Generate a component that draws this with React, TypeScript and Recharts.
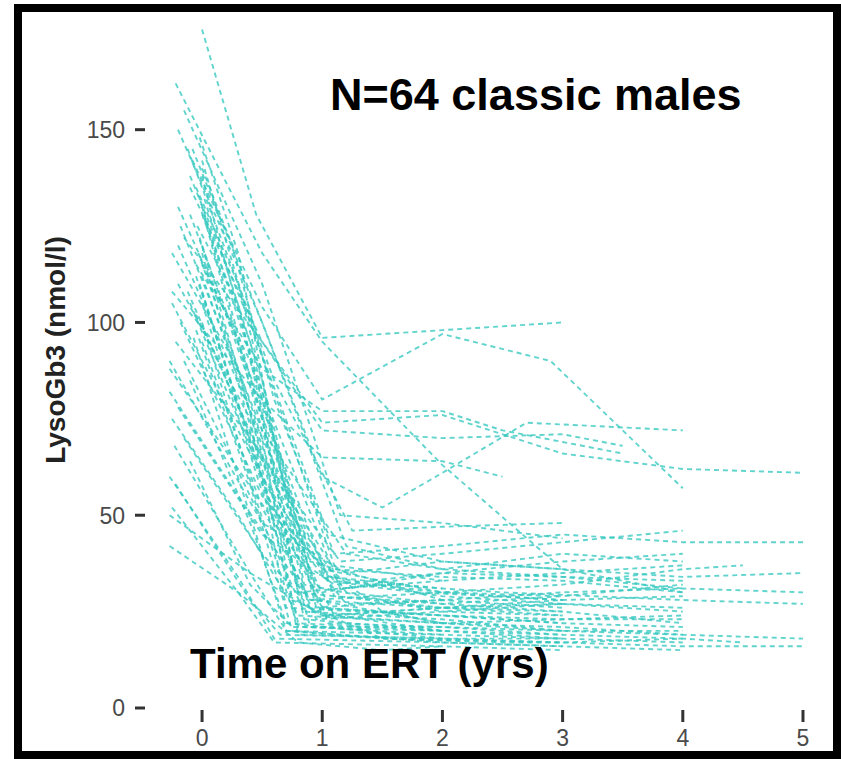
import { LineChart, Line, XAxis, YAxis } from "recharts";

// each track: [years on ERT, lysoGb3 nmol/l]
type Track = [number, number][];

const upperTracks: Track[] = [
  [[0, 176], [0.45, 128], [1, 96], [2, 98], [3, 100]],
  [[-0.22, 162], [0.5, 118], [1, 95], [2, 63], [3, 36], [4, 30]],
  [[-0.08, 142], [0.5, 104], [1, 80], [2, 97], [2.9, 90], [4, 57]],
  [[-0.15, 122], [0.5, 95], [1, 74], [2, 76], [3, 66], [4, 62], [5, 61]],
  [[-0.2, 150], [0.5, 100], [1, 60], [1.5, 52], [2, 61], [2.7, 74], [4, 72]],
  [[-0.05, 115], [0.5, 88], [1, 77], [2, 77], [2.5, 72], [3, 69], [3.5, 66]],
  [[-0.1, 135], [0.5, 95], [1, 72], [2, 70], [3, 71], [3.5, 68]],
  [[-0.25, 108], [0.5, 80], [1, 65], [2, 64], [2.5, 60]],
];

const steepTracks: Track[] = [
  [[-0.02, 148], [0.3, 118], [0.6, 70], [0.9, 35], [1.8, 30], [3, 28]],
  [[0, 140], [0.25, 120], [0.6, 80], [1.1, 40], [2, 42], [3, 45], [4, 43], [5, 43]],
  [[-0.05, 135], [0.3, 110], [0.7, 60], [0.95, 28], [2, 22], [3, 20]],
  [[0, 128], [0.4, 95], [0.75, 50], [1.2, 30], [2, 27], [3, 25], [4, 22]],
  [[-0.1, 138], [0.4, 100], [1.05, 45], [2, 38], [3, 36], [4, 34], [5, 35]],
  [[0.02, 132], [0.5, 85], [0.85, 32], [2, 25], [3, 24]],
  [[-0.04, 125], [0.3, 105], [0.65, 55], [0.9, 25], [2, 20], [3, 18], [4, 17]],
  [[-0.15, 155], [0.5, 110], [1.15, 50], [2, 48], [3, 44]],
  [[0, 120], [0.5, 75], [0.8, 30], [1.5, 32], [2.5, 30], [4, 28], [5, 27]],
  [[-0.08, 145], [0.5, 100], [1.2, 42], [2, 36], [3, 40], [4, 38]],
  [[-0.2, 130], [0.3, 95], [0.9, 38], [2, 28], [3, 30], [4, 31], [5, 30]],
  [[0, 115], [0.4, 90], [0.9, 40], [1.5, 25], [2, 22]],
  [[-0.12, 145], [0.6, 85], [1.25, 46], [2, 47], [3, 48]],
  [[-0.03, 118], [0.5, 70], [0.75, 28], [1.5, 18], [3, 17], [4, 16], [5, 16]],
];

const midTracks: Track[] = [
  [[-0.25, 118], [0.3, 88], [0.8, 30], [2, 26], [3, 24]],
  [[-0.2, 110], [0.4, 75], [0.7, 26], [2, 24], [3, 22], [4, 21]],
  [[-0.1, 105], [0.5, 60], [0.8, 22], [2, 20], [3, 19]],
  [[0, 112], [0.5, 68], [1, 24], [2, 22], [3, 21], [4, 19], [5, 18]],
  [[-0.18, 100], [0.5, 55], [1.1, 33], [2, 30], [3, 32], [4, 36], [4.5, 37]],
  [[-0.05, 98], [0.4, 58], [0.75, 20], [2, 17], [3, 16]],
  [[-0.22, 95], [0.4, 70], [1.1, 36], [2, 34], [3, 33], [4, 30]],
  [[0, 108], [0.6, 50], [1.2, 27], [2, 28]],
  [[-0.15, 90], [0.4, 55], [0.85, 25], [2, 23], [3, 20], [4, 20]],
  [[-0.27, 88], [0.3, 62], [1, 30], [2, 35], [3, 38], [4, 40]],
  [[-0.1, 85], [0.4, 48], [0.7, 22], [2, 18], [3, 17], [4, 18], [4.5, 17]],
  [[-0.05, 102], [0.5, 65], [1.15, 38], [2, 40], [3, 43], [4, 46]],
  [[-0.2, 120], [0.5, 70], [1.05, 34], [2, 31]],
  [[0, 95], [0.5, 52], [0.9, 28], [2, 26], [3, 27], [4, 26]],
];

const lowTracks: Track[] = [
  [[-0.27, 82], [0.3, 55], [0.9, 28], [2, 30], [3, 29]],
  [[-0.25, 75], [0.3, 50], [0.8, 24], [2, 22], [3, 23], [4, 24]],
  [[-0.23, 68], [0.4, 35], [0.7, 20], [2, 19], [3, 18]],
  [[-0.27, 60], [0.3, 34], [0.6, 18], [2, 17], [3, 16], [4, 15]],
  [[-0.25, 52], [0.3, 30], [0.6, 17], [2, 16], [3, 15]],
  [[-0.27, 42], [0.3, 30], [0.8, 17], [1.5, 15], [2, 16]],
  [[-0.2, 78], [0.5, 45], [1.1, 32], [2, 35], [3, 34], [4, 33]],
  [[-0.15, 70], [0.5, 40], [0.9, 26], [2, 28], [3, 26]],
  [[-0.27, 90], [0.5, 48], [1.2, 35], [2, 38], [3, 36]],
  [[-0.1, 64], [0.4, 32], [0.75, 21], [2, 21], [3, 20], [4, 19]],
  [[-0.27, 50], [0.4, 35], [1, 24], [2, 26], [3, 28], [4, 29]],
  [[-0.22, 58], [0.4, 28], [0.65, 19], [2, 18]],
];

const trunkTracks: Track[] = [
  [[0, 138], [0.5, 80], [0.95, 26], [2, 24], [3, 22]],
  [[0, 130], [0.5, 75], [0.85, 23], [2, 20]],
  [[0.02, 127], [0.5, 72], [1.05, 22], [2, 21], [3, 19], [4, 18]],
  [[-0.02, 122], [0.5, 66], [0.9, 21], [2, 19]],
  [[0, 118], [0.5, 62], [0.8, 19], [2, 18], [3, 18]],
  [[-0.05, 112], [0.5, 60], [1.1, 24], [2, 26], [3, 25]],
  [[0, 105], [0.5, 56], [0.95, 23], [2, 25], [3, 27], [4, 25]],
  [[-0.1, 128], [0.5, 78], [1.1, 29], [2, 27], [3, 29], [4, 32]],
  [[0, 100], [0.45, 54], [0.8, 21], [2, 20]],
  [[-0.03, 133], [0.5, 82], [1.15, 31], [2, 33], [3, 35], [4, 37]],
  [[-0.12, 108], [0.5, 64], [1, 36], [2, 30], [3, 28]],
  [[-0.07, 96], [0.4, 50], [0.7, 20], [1.5, 18], [2.5, 17], [3, 17]],
  [[0, 142], [0.4, 100], [1.1, 37], [2, 33]],
  [[-0.18, 125], [0.5, 72], [1.2, 40], [2, 36], [3, 34], [4, 31]],
  [[-0.02, 110], [0.5, 58], [1, 26], [2, 24], [3, 23], [4, 23]],
  [[-0.25, 105], [0.5, 60], [1.05, 33], [2, 29], [3, 27]],
];

const xTicks = [0, 1, 2, 3, 4, 5];
const yTicks = [0, 50, 100, 150];

const allTracks = [...upperTracks, ...steepTracks, ...midTracks, ...lowTracks, ...trunkTracks];
const series = allTracks.map((track) => track.map(([t, v]) => ({ t, v })));

const FONT = "'Liberation Sans', Arial, Helvetica, sans-serif";

function YTick({ x, y, payload }: any) {
  return (
    <g>
      <text x={x - 41} y={y} dy="0.36em" textAnchor="end" fontSize={23} fill="#4a4a4a" fontFamily={FONT}>
        {payload.value}
      </text>
      <line x1={x - 31} x2={x - 21} y1={y} y2={y} stroke="#333" strokeWidth={3} />
    </g>
  );
}

function XTick({ x, y, payload }: any) {
  return (
    <g>
      <line x1={x} x2={x} y1={y + 2} y2={y + 14} stroke="#333" strokeWidth={3} />
      <text x={x} y={y + 38} textAnchor="middle" fontSize={23} fill="#4a4a4a" fontFamily={FONT}>
        {payload.value}
      </text>
    </g>
  );
}

export default function App() {
  return (
    <div style={{ position: "absolute", left: 0, top: 0, width: 841, height: 759, background: "#fff" }}>
      <LineChart width={841} height={759} margin={{ top: 14, right: 32, bottom: 0, left: 0 }}>
        <XAxis
          type="number"
          dataKey="t"
          domain={[-0.3, 5.05]}
          ticks={xTicks}
          allowDataOverflow
          axisLine={false}
          tickLine={false}
          tickSize={0}
          tickMargin={0}
          height={51}
          tick={<XTick />}
        />
        <YAxis
          type="number"
          domain={[0, 180]}
          ticks={yTicks}
          allowDataOverflow
          axisLine={false}
          tickLine={false}
          tickSize={0}
          tickMargin={0}
          width={166}
          tick={<YTick />}
        />
        {series.map((points, i) => (
          <Line
            key={i}
            data={points}
            dataKey="v"
            type="linear"
            stroke="#33c8bf"
            strokeOpacity={0.78}
            strokeWidth={1.9}
            strokeDasharray="5 4"
            dot={false}
            activeDot={false}
            isAnimationActive={false}
          />
        ))}
      </LineChart>

      <svg width={841} height={759} style={{ position: "absolute", left: 0, top: 0, pointerEvents: "none" }}>
        <text x={330} y={110} fontSize={45} fontWeight="bold" fill="#000" fontFamily={FONT}>
          N=64 classic males
        </text>
        <text x={190} y={678} fontSize={42} fontWeight="bold" fill="#000" fontFamily={FONT}>
          Time on ERT (yrs)
        </text>
        <text
          x={65}
          y={350}
          transform="rotate(-90 65 350)"
          textAnchor="middle"
          fontSize={28}
          fontWeight="bold"
          fill="#222"
          fontFamily={FONT}
        >
          LysoGb3 (nmol/l)
        </text>
      </svg>

      <div
        style={{
          position: "absolute",
          left: 14,
          top: 4,
          width: 827,
          height: 755,
          boxSizing: "border-box",
          border: "8px solid #000",
          pointerEvents: "none",
        }}
      />
    </div>
  );
}
